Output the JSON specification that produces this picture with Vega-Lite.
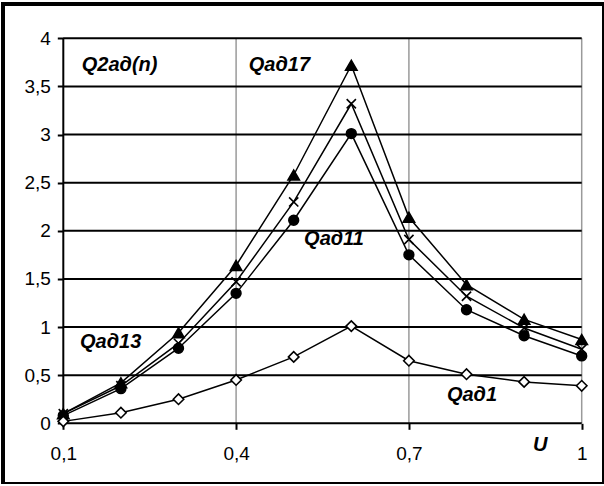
{
  "$schema": "https://vega.github.io/schema/vega-lite/v6.json",
  "width": 601,
  "height": 480,
  "autosize": "none",
  "padding": {"left": 3, "top": 4, "right": 0, "bottom": 0},
  "background": "white",
  "config": {
    "view": {"stroke": "black", "strokeWidth": 4},
    "font": "Liberation Sans",
    "axisX": {"offset": -60.7, "domain": false, "grid": false, "tickSize": 6, "tickColor": "black", "tickWidth": 2, "labelFontSize": 19, "labelColor": "black", "labelPadding": 15, "labelFont": "Liberation Sans", "labelFlush": false, "labelOverlap": false, "labelExpr": "replace(toString(datum.value), '.', ',')", "title": null},
    "axisY": {"offset": -60.3, "domain": false, "grid": false, "tickSize": 6, "tickColor": "black", "tickWidth": 2, "labelFontSize": 19, "labelColor": "black", "labelPadding": 7, "labelFont": "Liberation Sans", "labelFlush": false, "labelOverlap": false, "labelExpr": "replace(toString(datum.value), '.', ',')", "title": null}
  },
  "datasets": {
    "pts": [
      {"x": 0.1, "y": 0.10, "s": "Qaд17"}, {"x": 0.2, "y": 0.42, "s": "Qaд17"}, {"x": 0.3, "y": 0.94, "s": "Qaд17"}, {"x": 0.4, "y": 1.64, "s": "Qaд17"}, {"x": 0.5, "y": 2.58, "s": "Qaд17"}, {"x": 0.6, "y": 3.72, "s": "Qaд17"}, {"x": 0.7, "y": 2.14, "s": "Qaд17"}, {"x": 0.8, "y": 1.44, "s": "Qaд17"}, {"x": 0.9, "y": 1.08, "s": "Qaд17"}, {"x": 1.0, "y": 0.87, "s": "Qaд17"},
      {"x": 0.1, "y": 0.10, "s": "Qaд13"}, {"x": 0.2, "y": 0.39, "s": "Qaд13"}, {"x": 0.3, "y": 0.83, "s": "Qaд13"}, {"x": 0.4, "y": 1.47, "s": "Qaд13"}, {"x": 0.5, "y": 2.30, "s": "Qaд13"}, {"x": 0.6, "y": 3.32, "s": "Qaд13"}, {"x": 0.7, "y": 1.91, "s": "Qaд13"}, {"x": 0.8, "y": 1.32, "s": "Qaд13"}, {"x": 0.9, "y": 0.99, "s": "Qaд13"}, {"x": 1.0, "y": 0.77, "s": "Qaд13"},
      {"x": 0.1, "y": 0.08, "s": "Qaд11"}, {"x": 0.2, "y": 0.36, "s": "Qaд11"}, {"x": 0.3, "y": 0.78, "s": "Qaд11"}, {"x": 0.4, "y": 1.35, "s": "Qaд11"}, {"x": 0.5, "y": 2.11, "s": "Qaд11"}, {"x": 0.6, "y": 3.01, "s": "Qaд11"}, {"x": 0.7, "y": 1.75, "s": "Qaд11"}, {"x": 0.8, "y": 1.18, "s": "Qaд11"}, {"x": 0.9, "y": 0.91, "s": "Qaд11"}, {"x": 1.0, "y": 0.70, "s": "Qaд11"},
      {"x": 0.1, "y": 0.02, "s": "Qaд1"}, {"x": 0.2, "y": 0.11, "s": "Qaд1"}, {"x": 0.3, "y": 0.25, "s": "Qaд1"}, {"x": 0.4, "y": 0.45, "s": "Qaд1"}, {"x": 0.5, "y": 0.69, "s": "Qaд1"}, {"x": 0.6, "y": 1.01, "s": "Qaд1"}, {"x": 0.7, "y": 0.65, "s": "Qaд1"}, {"x": 0.8, "y": 0.51, "s": "Qaд1"}, {"x": 0.9, "y": 0.43, "s": "Qaд1"}, {"x": 1.0, "y": 0.39, "s": "Qaд1"}
    ],
    "hgrid": [{"y": 0}, {"y": 0.5}, {"y": 1}, {"y": 1.5}, {"y": 2}, {"y": 2.5}, {"y": 3}, {"y": 3.5}, {"y": 4}],
    "vgrid": [{"x": 0.4}, {"x": 0.7}, {"x": 1}],
    "labels": [
      {"t": "Q2aд(n)", "x": 0.132, "y": 3.72},
      {"t": "Qaд17", "x": 0.422, "y": 3.72},
      {"t": "Qaд11", "x": 0.518, "y": 1.915},
      {"t": "Qaд13", "x": 0.129, "y": 0.845},
      {"t": "Qaд1", "x": 0.766, "y": 0.294}
    ]
  },
  "layer": [
    {
      "data": {"name": "vgrid"},
      "mark": {"type": "rule", "color": "#9a9a9a", "strokeWidth": 1.5},
      "encoding": {
        "x": {"field": "x", "type": "quantitative", "scale": {"domain": [-0.00469, 1.03871], "nice": false, "zero": false}, "axis": {"values": [0.1, 0.4, 0.7, 1]}},
        "y": {"datum": 0, "type": "quantitative", "scale": {"domain": [-0.6307, 4.3564], "nice": false, "zero": false}, "axis": {"values": [0, 0.5, 1, 1.5, 2, 2.5, 3, 3.5, 4]}},
        "y2": {"datum": 4}
      }
    },
    {
      "data": {"name": "hgrid"},
      "mark": {"type": "rule", "color": "black", "strokeWidth": 2},
      "encoding": {
        "y": {"field": "y", "type": "quantitative", "scale": {"domain": [-0.6307, 4.3564], "nice": false, "zero": false}, "axis": {"values": [0, 0.5, 1, 1.5, 2, 2.5, 3, 3.5, 4]}},
        "x": {"datum": 0.1, "type": "quantitative", "scale": {"domain": [-0.00469, 1.03871], "nice": false, "zero": false}, "axis": {"values": [0.1, 0.4, 0.7, 1]}},
        "x2": {"datum": 1}
      }
    },
    {
      "data": {"values": [{"x": 0.1}]},
      "mark": {"type": "rule", "color": "black", "strokeWidth": 2},
      "encoding": {
        "x": {"field": "x", "type": "quantitative", "scale": {"domain": [-0.00469, 1.03871], "nice": false, "zero": false}, "axis": {"values": [0.1, 0.4, 0.7, 1]}},
        "y": {"datum": 0, "type": "quantitative", "scale": {"domain": [-0.6307, 4.3564], "nice": false, "zero": false}, "axis": {"values": [0, 0.5, 1, 1.5, 2, 2.5, 3, 3.5, 4]}},
        "y2": {"datum": 4}
      }
    },
    {
      "data": {"name": "pts"},
      "mark": {"type": "line", "color": "black", "strokeWidth": 1.5},
      "encoding": {
        "x": {"field": "x", "type": "quantitative", "scale": {"domain": [-0.00469, 1.03871], "nice": false, "zero": false}, "axis": {"values": [0.1, 0.4, 0.7, 1]}},
        "y": {"field": "y", "type": "quantitative", "scale": {"domain": [-0.6307, 4.3564], "nice": false, "zero": false}, "axis": {"values": [0, 0.5, 1, 1.5, 2, 2.5, 3, 3.5, 4]}},
        "detail": {"field": "s"}
      }
    },
    {
      "data": {"name": "pts"},
      "mark": {"type": "point", "filled": true, "stroke": "black", "strokeWidth": 1.6, "opacity": 1},
      "encoding": {
        "x": {"field": "x", "type": "quantitative", "scale": {"domain": [-0.00469, 1.03871], "nice": false, "zero": false}, "axis": {"values": [0.1, 0.4, 0.7, 1]}},
        "y": {"field": "y", "type": "quantitative", "scale": {"domain": [-0.6307, 4.3564], "nice": false, "zero": false}, "axis": {"values": [0, 0.5, 1, 1.5, 2, 2.5, 3, 3.5, 4]}},
        "shape": {"field": "s", "type": "nominal", "scale": {"domain": ["Qaд17", "Qaд13", "Qaд11", "Qaд1"], "range": ["triangle-up", "M-1,-1L1,1M-1,1L1,-1", "circle", "diamond"]}, "legend": null},
        "fill": {"field": "s", "type": "nominal", "scale": {"domain": ["Qaд17", "Qaд13", "Qaд11", "Qaд1"], "range": ["black", "transparent", "black", "white"]}, "legend": null},
        "size": {"field": "s", "type": "nominal", "scale": {"type": "ordinal", "domain": ["Qaд17", "Qaд13", "Qaд11", "Qaд1"], "range": [130, 85, 95, 110]}, "legend": null}
      }
    },
    {
      "data": {"name": "labels"},
      "mark": {"type": "text", "font": "Liberation Sans", "fontStyle": "italic", "fontWeight": "bold", "fontSize": 20, "align": "left", "baseline": "middle", "color": "black"},
      "encoding": {
        "x": {"field": "x", "type": "quantitative", "scale": {"domain": [-0.00469, 1.03871], "nice": false, "zero": false}, "axis": {"values": [0.1, 0.4, 0.7, 1]}},
        "y": {"field": "y", "type": "quantitative", "scale": {"domain": [-0.6307, 4.3564], "nice": false, "zero": false}, "axis": {"values": [0, 0.5, 1, 1.5, 2, 2.5, 3, 3.5, 4]}},
        "text": {"field": "t"}
      }
    },
    {
      "data": {"values": [{"t": "U", "x": 0.928, "y": -0.225}]},
      "mark": {"type": "text", "font": "Liberation Sans", "fontStyle": "italic", "fontWeight": "bold", "fontSize": 20, "align": "center", "baseline": "middle", "color": "black"},
      "encoding": {
        "x": {"field": "x", "type": "quantitative", "scale": {"domain": [-0.00469, 1.03871], "nice": false, "zero": false}, "axis": {"values": [0.1, 0.4, 0.7, 1]}},
        "y": {"field": "y", "type": "quantitative", "scale": {"domain": [-0.6307, 4.3564], "nice": false, "zero": false}, "axis": {"values": [0, 0.5, 1, 1.5, 2, 2.5, 3, 3.5, 4]}},
        "text": {"field": "t"}
      }
    }
  ]
}
